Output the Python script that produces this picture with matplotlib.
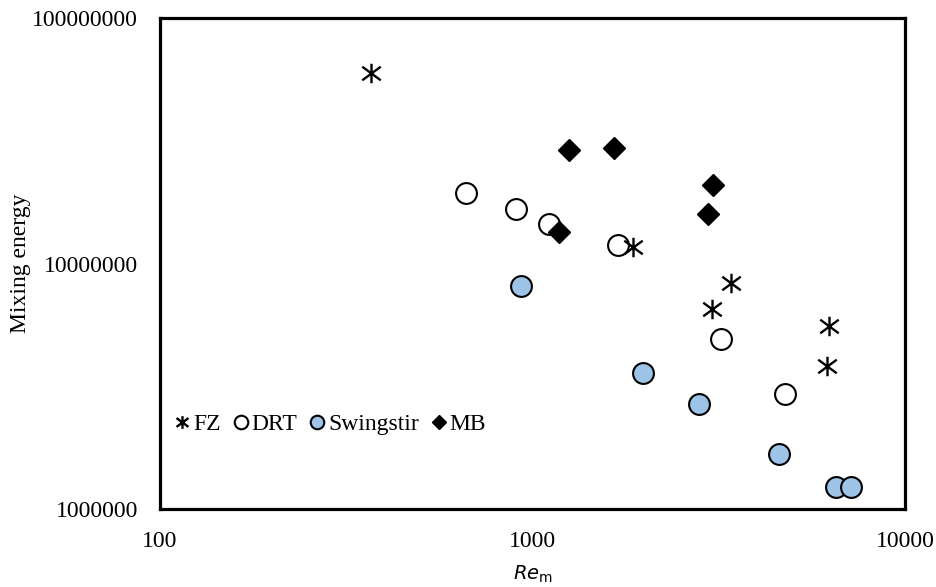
import matplotlib.pyplot as plt
from matplotlib.path import Path

# data (Re_m, mixing energy)
fz_re = [368, 1862, 3410, 3035, 6250, 6170]
fz_energy = [5.97e7, 1.17e7, 8.34e6, 6.53e6, 5.56e6, 3.82e6]

drt_re = [662, 900, 1110, 1698, 3206, 4764]
drt_energy = [1.94e7, 1.67e7, 1.45e7, 1.19e7, 4.92e6, 2.94e6]

swing_re = [931, 1982, 2797, 4590, 6530, 7160]
swing_energy = [8.09e6, 3.58e6, 2.68e6, 1.67e6, 1.23e6, 1.23e6]

mb_re = [1253, 1650, 3053, 2960, 1175]
mb_energy = [2.90e7, 2.95e7, 2.09e7, 1.59e7, 1.34e7]

x_ticks = [100, 1000, 10000]
y_ticks = [1000000, 10000000, 100000000]

# asterisk without horizontal arm: vertical bar plus an x
star = Path([(0, -1), (0, 1), (-0.95, -0.7), (0.95, 0.7), (-0.95, 0.7), (0.95, -0.7)],
            [Path.MOVETO, Path.LINETO, Path.MOVETO, Path.LINETO, Path.MOVETO, Path.LINETO])

plt.rcParams['font.family'] = ['Liberation Serif', 'DejaVu Serif']
plt.rcParams['mathtext.fontset'] = 'dejavusans'

fig = plt.figure(figsize=(9.36, 5.87), dpi=100)
ax = fig.add_axes([0.171, 0.133, 0.796, 0.836])

ax.plot(drt_re, drt_energy, ls='none', marker='o', ms=15, mfc='white', mec='black',
        mew=1.5, label='DRT', zorder=3)
ax.plot(swing_re, swing_energy, ls='none', marker='o', ms=15, mfc='#9dc3e6', mec='black',
        mew=1.5, label='Swingstir', zorder=3)
ax.plot(mb_re, mb_energy, ls='none', marker='D', ms=11, mfc='black', mec='black',
        label='MB', zorder=4)
ax.plot(fz_re, fz_energy, ls='none', marker=star, ms=14, mfc='none', mec='black',
        mew=1.7, label='FZ', zorder=5)

ax.set_xscale('log')
ax.set_yscale('log')
ax.set_xlim(100, 10000)
ax.set_ylim(1e6, 1e8)
ax.set_xticks(x_ticks)
ax.set_xticklabels([str(v) for v in x_ticks])
ax.set_yticks(y_ticks)
ax.set_yticklabels([str(v) for v in y_ticks])
ax.minorticks_off()
ax.tick_params(length=0, labelsize=17)
ax.tick_params(axis='y', pad=16)
ax.tick_params(axis='x', pad=16)
for s in ax.spines.values():
    s.set_linewidth(2.3)

ax.set_ylabel('Mixing energy', fontsize=17, labelpad=1)
ax.set_xlabel(r'$\mathit{Re}_\mathrm{m}$', fontsize=14, labelpad=8)

handles, labels = ax.get_legend_handles_labels()
order = [3, 0, 1, 2]
ax.legend([handles[i] for i in order], [labels[i] for i in order], ncol=4,
          loc='center left', bbox_to_anchor=(0.0, 0.173), frameon=False,
          fontsize=17, markerscale=0.65, handlelength=0.6, handletextpad=0.15,
          columnspacing=0.55, borderaxespad=0.25)

fig.savefig('out.png', dpi=100)
